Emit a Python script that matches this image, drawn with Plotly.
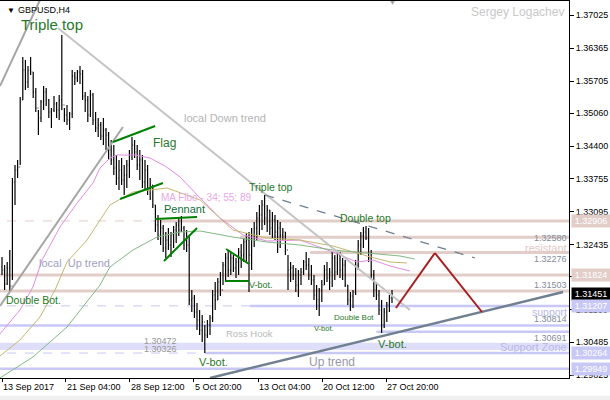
import plotly.graph_objects as go

FONT = "Liberation Sans, Arial, sans-serif"

# ---------------- price data (GBPUSD H4) ----------------
high = [1.32185, 1.32025, 1.32085, 1.32325, 1.33765, 1.34025, 1.34125, 1.35385, 1.36185, 1.36125,
        1.36005, 1.36185, 1.35885, 1.35565, 1.35125, 1.35325, 1.35605, 1.35565, 1.35345, 1.35165,
        1.35405, 1.35285, 1.35425, 1.36625, 1.35165, 1.35225, 1.35085, 1.35925, 1.35885, 1.35925,
        1.36005, 1.35925, 1.35485, 1.35405, 1.35525, 1.35465, 1.35085, 1.34965, 1.34885, 1.34965,
        1.34765, 1.34685, 1.34525, 1.34425, 1.34225, 1.34125, 1.34165, 1.34025, 1.34125, 1.34325,
        1.34585, 1.34525, 1.34425, 1.34325, 1.34225, 1.34125, 1.34025, 1.33765, 1.33625, 1.33225,
        1.33025, 1.32925, 1.32825, 1.32685, 1.32765, 1.32685, 1.32805, 1.32885, 1.32965, 1.33005,
        1.32805, 1.32725, 1.32625, 1.31525, 1.31425, 1.31265, 1.31125, 1.31025, 1.30825, 1.30925,
        1.31025, 1.31525, 1.31685, 1.31765, 1.31885, 1.32085, 1.32265, 1.32325, 1.32285, 1.32225,
        1.32165, 1.32365, 1.32445, 1.32565, 1.32665, 1.32685, 1.32765, 1.32885, 1.33085, 1.33225,
        1.33325, 1.33425, 1.33225, 1.33125, 1.33085, 1.33025, 1.32925, 1.32885, 1.32765, 1.32685,
        1.32225, 1.32085, 1.32025, 1.31965, 1.31925, 1.31965, 1.32125, 1.32285, 1.32165, 1.32025,
        1.31825, 1.31625, 1.31565, 1.31725, 1.32025, 1.32085, 1.31965, 1.32285, 1.32225, 1.32325,
        1.32285, 1.32165, 1.32125, 1.31625, 1.31485, 1.31525, 1.32125, 1.32525, 1.32685, 1.32785,
        1.32805, 1.32765, 1.32325, 1.31925, 1.31685, 1.31525, 1.31325, 1.31165, 1.31285, 1.31425,
        1.31525]
low = [1.31825, 1.31525, 1.31625, 1.31505, 1.31725, 1.33225, 1.33765, 1.34025, 1.35325, 1.35525,
       1.35565, 1.35825, 1.35365, 1.35085, 1.34625, 1.34885, 1.35125, 1.35205, 1.34965, 1.34765,
       1.35085, 1.34965, 1.34925, 1.35125, 1.34885, 1.34825, 1.34725, 1.34965, 1.35625, 1.35685,
       1.35645, 1.35325, 1.35085, 1.34885, 1.34985, 1.34825, 1.34685, 1.34585, 1.34525, 1.34425,
       1.34325, 1.34125, 1.34025, 1.33825, 1.33625, 1.33525, 1.33625, 1.33425, 1.33565, 1.33765,
       1.34125, 1.34165, 1.33925, 1.33725, 1.33565, 1.33525, 1.33425, 1.33325, 1.33165, 1.32685,
       1.32525, 1.32425, 1.32285, 1.32165, 1.32325, 1.32185, 1.32365, 1.32465, 1.32605, 1.32685,
       1.32325, 1.32285, 1.31225, 1.31085, 1.30965, 1.30725, 1.30625, 1.30485, 1.30265, 1.30565,
       1.30625, 1.30885, 1.31125, 1.31325, 1.31405, 1.31625, 1.31685, 1.31785, 1.31825, 1.31885,
       1.31765, 1.31825, 1.31965, 1.32085, 1.32085, 1.31485, 1.31925, 1.32385, 1.32525, 1.32625,
       1.32725, 1.32825, 1.32685, 1.32625, 1.32565, 1.32525, 1.32265, 1.32365, 1.32525, 1.32225,
       1.31525, 1.31685, 1.31725, 1.31485, 1.31385, 1.31625, 1.31825, 1.31925, 1.31725, 1.31625,
       1.31325, 1.31125, 1.31005, 1.31285, 1.31625, 1.31685, 1.31525, 1.31585, 1.31725, 1.31825,
       1.31765, 1.31725, 1.31585, 1.31225, 1.31105, 1.31165, 1.31425, 1.31925, 1.32225, 1.32365,
       1.32525, 1.32085, 1.31765, 1.31385, 1.31325, 1.31025, 1.30665, 1.30765, 1.30885, 1.31085,
       1.31265]
close = [1.31925, 1.31645, 1.31965, 1.31605, 1.33685, 1.33925, 1.33985, 1.35325, 1.35925, 1.35685,
         1.35925, 1.35885, 1.35485, 1.35165, 1.34965, 1.35285, 1.35485, 1.35325, 1.35085, 1.35125,
         1.35245, 1.35125, 1.35325, 1.35225, 1.35025, 1.34925, 1.35045, 1.35805, 1.35765, 1.35885,
         1.35845, 1.35405, 1.35325, 1.35025, 1.35425, 1.34925, 1.34765, 1.34825, 1.34605, 1.34725,
         1.34625, 1.34325, 1.34125, 1.33965, 1.33765, 1.33925, 1.33725, 1.33825, 1.34025, 1.34225,
         1.34425, 1.34285, 1.34025, 1.34125, 1.33685, 1.33925, 1.33525, 1.33625, 1.33225, 1.32825,
         1.32625, 1.32765, 1.32365, 1.32525, 1.32425, 1.32625, 1.32725, 1.32825, 1.32725, 1.32765,
         1.32525, 1.32425, 1.31325, 1.31365, 1.31085, 1.30925, 1.30725, 1.30885, 1.30625, 1.30825,
         1.30965, 1.31425, 1.31325, 1.31685, 1.31525, 1.32025, 1.32165, 1.31925, 1.32165, 1.31965,
         1.32085, 1.32285, 1.32225, 1.32485, 1.32525, 1.32225, 1.32625, 1.32765, 1.32965, 1.33025,
         1.33225, 1.32965, 1.33125, 1.32765, 1.32925, 1.32685, 1.32765, 1.32625, 1.32685, 1.32325,
         1.31925, 1.31965, 1.31825, 1.31625, 1.31825, 1.31885, 1.32085, 1.32025, 1.31825, 1.31725,
         1.31425, 1.31325, 1.31525, 1.31625, 1.31925, 1.31765, 1.31885, 1.32165, 1.31885, 1.32225,
         1.31925, 1.32025, 1.31625, 1.31325, 1.31405, 1.31485, 1.32025, 1.32425, 1.32605, 1.32685,
         1.32565, 1.32165, 1.31825, 1.31525, 1.31425, 1.31125, 1.30825, 1.31085, 1.31225, 1.31365,
         1.31451]
first_open = 1.31985
open_ = [first_open] + close[:-1]
bars = list(range(len(close)))

# ---------------- moving averages (MA Fibo 34 / 55 / 89), sampled from the chart ----------------
ma34_x = [-0.8, 6.9, 11.9, 15.4, 22.3, 28.9, 35.0, 37.7, 41.5, 44.2, 51.2, 56.9, 62.7, 68.5, 76.2,
          83.9, 92.7, 101.9, 114.6, 127.3, 136.5, 142.7, 149.2, 156.9]
ma34_y = [1.30645, 1.31125, 1.31585, 1.32125, 1.32785, 1.33265, 1.33665, 1.33965, 1.34165, 1.34225,
          1.34225, 1.34165, 1.34005, 1.33785, 1.33365, 1.32965, 1.32625, 1.32505, 1.32525, 1.32285,
          1.32085, 1.32125, 1.32005, 1.31905]
ma55_x = [-0.8, 6.9, 14.6, 20.4, 25.0, 32.7, 41.5, 50.4, 63.5, 76.2, 88.8, 101.9, 114.6, 127.3,
          140.4, 149.2, 155.8]
ma55_y = [1.30205, 1.30525, 1.30985, 1.31525, 1.32085, 1.32525, 1.33225, 1.33485, 1.33565, 1.33325,
          1.32725, 1.32565, 1.32525, 1.32405, 1.32205, 1.32085, 1.32065]
ma89_x = [-0.8, 11.9, 25.0, 37.7, 41.5, 50.4, 59.6, 68.5, 76.2, 88.8, 101.9, 114.6, 127.3, 140.4,
          153.1, 158.8]
ma89_y = [1.29765, 1.30185, 1.30785, 1.31625, 1.31985, 1.32325, 1.32585, 1.32685, 1.32705, 1.32585,
          1.32485, 1.32425, 1.32325, 1.32265, 1.32205, 1.32145]

# ---------------- axes ----------------
date_ticks = [0, 24.5, 49.2, 73.7, 98.5, 123.1, 147.7]
date_labels = ["13 Sep 2017", "21 Sep 04:00", "28 Sep 12:00", "5 Oct 20:00",
               "13 Oct 04:00", "20 Oct 12:00", "27 Oct 20:00"]
price_ticks = [1.37025, 1.36365, 1.35705, 1.35060, 1.34400, 1.33755, 1.33095, 1.32435,
               1.31790, 1.31130, 1.30485, 1.29825]
price_labels = ["%.5f" % v for v in price_ticks]
X_RANGE = [-0.77, 218.08]
Y_RANGE = [1.29765, 1.37305]

# ---------------- horizontal levels ----------------
ROSE = "rgb(226,205,201)"
LAV = "rgb(200,200,246)"
rose_levels = [1.32906, 1.32580, 1.32276, 1.31824, 1.31503]
rose_starts = [60.8, 91.5, 118.5, -5, -5]
lav_levels = [1.31207, 1.30814, 1.30691, 1.30264, 1.29949]
lav_starts = [95.4, -5, 144.0, 78.0, -5]
dashed_levels = [1.32906, 1.31207, 1.30264]
dashed_colors = [ROSE, LAV, LAV]
zone_low, zone_high = 1.30326, 1.30472

# ---------------- drawn objects ----------------
trend_lines = [  # x0, y0, x1, y1, color, width, dash
    (21.5, 1.36765, 156.9, 1.31125, "rgb(196,196,196)", 2, "solid"),     # local down trend
    (-0.77, 1.31205, 46.5, 1.34785, "rgb(165,165,165)", 2, "solid"),     # local up trend
    (-0.77, 1.35605, 14.6, 1.37325, "rgb(165,165,165)", 2, "solid"),
    (80.0, 1.29765, 215.8, 1.31485, "rgb(112,128,144)", 2.5, "solid"),   # up trend
    (101.2, 1.33425, 181.9, 1.32165, "rgb(112,128,144)", 1.3, "dash"),   # tops line
    (151.5, 1.31165, 166.5, 1.32265, "rgb(165,32,32)", 2, "solid"),      # projection
    (166.5, 1.32265, 184.6, 1.31085, "rgb(165,32,32)", 2, "solid"),
    (42.7, 1.34485, 58.9, 1.34805, "rgb(0,128,0)", 2, "solid"),          # flag
    (45.4, 1.33345, 61.9, 1.33665, "rgb(0,128,0)", 2, "solid"),
    (58.9, 1.32945, 75.0, 1.32985, "rgb(0,128,0)", 2, "solid"),          # pennant
    (62.3, 1.32105, 75.0, 1.32765, "rgb(0,128,0)", 2, "solid"),
    (86.2, 1.32345, 95.0, 1.32045, "rgb(0,128,0)", 2, "solid"),
    (85.8, 1.31705, 95.0, 1.31705, "rgb(0,128,0)", 2, "solid"),
]

GREEN_T = "rgb(40,120,40)"
texts = [  # text, x, y, size, color
    ("Triple top", 6.9, 1.36845, 15, GREEN_T),
    ("local Down trend", 69.6, 1.34965, 11, "rgb(180,180,180)"),
    ("Flag", 57.7, 1.34465, 12, GREEN_T),
    ("MA Fibo - 34; 55; 89", 60.8, 1.33385, 10, "rgb(232,168,232)"),
    ("Pennant", 61.9, 1.33145, 11, "rgb(20,110,60)"),
    ("Triple top", 94.6, 1.33585, 10.5, GREEN_T),
    ("Double top", 129.6, 1.32965, 10.5, GREEN_T),
    ("local  Up trend", 13.9, 1.32065, 11, "rgb(160,160,196)"),
    ("Double Bot.", 1.2, 1.31325, 10.5, GREEN_T),
    ("V-bot.", 94.6, 1.31625, 9, GREEN_T),
    ("Ross Hook", 85.8, 1.30665, 9.5, "rgb(184,184,184)"),
    ("V-bot.", 119.6, 1.30765, 7.5, GREEN_T),
    ("Double Bot", 127.3, 1.30985, 8, GREEN_T),
    ("V-bot.", 144.2, 1.30445, 11, GREEN_T),
    ("V-bot.", 75.4, 1.30085, 11, GREEN_T),
    ("Up trend", 117.7, 1.30085, 12, "rgb(152,152,168)"),
    ("1.30472", 54.2, 1.30505, 9, "rgb(150,150,150)"),
    ("1.30326", 54.2, 1.30345, 9, "rgb(150,150,150)"),
    ("GBPUSD,H4", 5.8, 1.37125, 9, "black"),
    ("\u25bc", 1.6, 1.37125, 8, "black"),
    ("\u25bc", 148.3, 1.37275, 7, "rgb(160,160,160)"),
]
right_texts = [  # text, y, size, color
    ("1.32580", 1.32565, 9, "rgb(130,140,155)"),
    ("resistant", 1.32365, 11, "rgb(226,200,196)"),
    ("1.32276", 1.32145, 9, "rgb(130,140,155)"),
    ("1.31503", 1.31625, 9, "rgb(130,140,155)"),
    ("support", 1.31085, 10.5, "rgb(184,184,232)"),
    ("1.30814", 1.30945, 9, "rgb(130,140,155)"),
    ("1.30691", 1.30565, 9, "rgb(130,140,155)"),
    ("Support Zone", 1.30385, 11, "rgb(184,184,232)"),
]
axis_boxes = [  # value, background, text colour
    (1.32906, ROSE, "white"),
    (1.31824, ROSE, "white"),
    (1.31451, "black", "white"),
    (1.31207, LAV, "white"),
    (1.30264, LAV, "white"),
    (1.29949, LAV, "white"),
]

fig = go.Figure()
fig.add_trace(go.Ohlc(
    x=bars, open=open_, high=high, low=low, close=close,
    increasing=dict(line=dict(color="black", width=1.2)),
    decreasing=dict(line=dict(color="black", width=1.2)),
    tickwidth=0.3, showlegend=False, hoverinfo="skip"))
for xs, ys, col in [(ma34_x, ma34_y, "rgb(226,140,226)"),
                    (ma55_x, ma55_y, "rgb(196,184,110)"),
                    (ma89_x, ma89_y, "rgb(130,184,130)")]:
    fig.add_trace(go.Scatter(x=xs, y=ys, mode="lines", line=dict(color=col, width=1),
                             showlegend=False, hoverinfo="skip"))

shapes = []
shapes.append(dict(type="rect", xref="x", yref="y", x0=-5, x1=300, y0=zone_low, y1=zone_high,
                   fillcolor="rgb(222,222,250)", line=dict(width=0), layer="below"))
for lv, col in zip(dashed_levels, dashed_colors):
    shapes.append(dict(type="line", xref="x", yref="y", x0=-5, x1=300, y0=lv, y1=lv,
                       line=dict(color=col, width=1, dash="dash"), layer="below"))
for lv, st in zip(rose_levels, rose_starts):
    shapes.append(dict(type="line", xref="x", yref="y", x0=st, x1=300, y0=lv, y1=lv,
                       line=dict(color=ROSE, width=3), layer="below"))
for lv, st in zip(lav_levels, lav_starts):
    shapes.append(dict(type="line", xref="x", yref="y", x0=st, x1=300, y0=lv, y1=lv,
                       line=dict(color=LAV, width=2.5), layer="below"))
for x0, y0, x1, y1, col, w, dash in trend_lines:
    shapes.append(dict(type="line", xref="x", yref="y", x0=x0, y0=y0, x1=x1, y1=y1,
                       line=dict(color=col, width=w, dash=dash), layer="above"))
# grey strip at the very bottom of the window
shapes.append(dict(type="rect", xref="paper", yref="paper", x0=-0.01, x1=1.08, y0=-0.062, y1=-0.047,
                   fillcolor="rgb(240,240,240)", line=dict(width=0)))

annotations = []
for t, x, y, s, c in texts:
    annotations.append(dict(text=t, x=x, y=y, xref="x", yref="y", xanchor="left", yanchor="middle",
                            showarrow=False, font=dict(size=s, color=c, family=FONT), borderpad=0))
annotations.append(dict(text="Sergey Logachev", x=0.994, y=1.37085, xref="paper", yref="y",
                        xanchor="right", yanchor="middle", showarrow=False,
                        font=dict(size=12, color="rgb(200,200,200)", family=FONT)))
for t, y, s, c in right_texts:
    annotations.append(dict(text=t, x=0.998, y=y, xref="paper", yref="y", xanchor="right",
                            yanchor="middle", showarrow=False, borderpad=0,
                            font=dict(size=s, color=c, family=FONT)))
for v, bg, fc in axis_boxes:
    annotations.append(dict(text="%.5f" % v, x=1, y=v, xref="paper", yref="y", xanchor="left",
                            yanchor="middle", xshift=2, showarrow=False, bgcolor=bg, borderpad=1,
                            width=36, font=dict(size=9, color=fc, family=FONT)))
for t, x in zip(date_labels, date_ticks):
    annotations.append(dict(text=t, x=x, y=-0.024, xref="x", yref="paper", xanchor="left",
                            yanchor="middle", showarrow=False, borderpad=0,
                            font=dict(size=9, color="black", family=FONT)))

fig.update_layout(
    width=610, height=400, autosize=False,
    margin=dict(l=0, r=41, t=1, b=22, pad=0),
    paper_bgcolor="white", plot_bgcolor="white",
    font=dict(family=FONT, size=9, color="black"),
    shapes=shapes, annotations=annotations, showlegend=False, hovermode=False,
    xaxis=dict(range=X_RANGE, rangeslider=dict(visible=False), showgrid=False, zeroline=False,
               tickvals=date_ticks, showticklabels=False, ticks="outside", ticklen=3,
               tickcolor="black", showline=True, linecolor="black", linewidth=1, mirror=True),
    yaxis=dict(range=Y_RANGE, side="right", showgrid=False, zeroline=False,
               tickvals=price_ticks, ticktext=price_labels, ticks="outside", ticklen=4,
               tickcolor="black", showline=True, linecolor="black", linewidth=1, mirror=True,
               tickfont=dict(size=9, color="black", family=FONT)),
)
fig.write_html("out.html", config={"displayModeBar": False},
               post_script="document.body.style.margin='0';document.body.style.overflow='hidden';")
